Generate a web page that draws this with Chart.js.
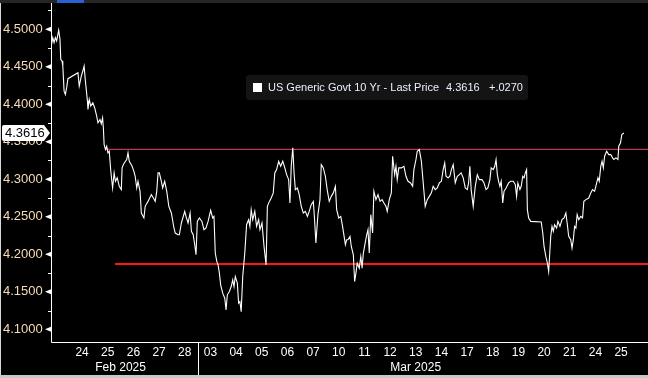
<!DOCTYPE html>
<html>
<head>
<meta charset="utf-8">
<script src="https://cdn.jsdelivr.net/npm/chart.js@4.4.1/dist/chart.umd.min.js"></script>
<style>
  html, body { margin: 0; padding: 0; background: #000; }
  #yieldCanvas { display: block; }
</style>
</head>
<body>
<canvas id="yieldCanvas" width="648" height="378"></canvas>
<script>
// US 10y generic yield, 21 Feb - 25 Mar 2025 (x = trading day position, 0 = start of 24 Feb)
const dayLabels = ["24", "25", "26", "27", "28", "03", "04", "05", "06", "07", "10", "11",
  "12", "13", "14", "17", "18", "19", "20", "21", "24", "25"];
const monthLabels = ["Feb 2025", "Mar 2025"];
const monthStarts = [-1, 5];
const monthEnds = [5, 22];

const yTicks = [4.10, 4.15, 4.20, 4.25, 4.30, 4.35, 4.40, 4.45, 4.50];
const yMinorTicks = [4.125, 4.175, 4.225, 4.275, 4.325, 4.375, 4.425, 4.475, 4.525];

const times = [
  -0.70, -0.64, -0.59, -0.54, -0.49, -0.41, -0.36, -0.33, -0.28, -0.25, -0.20, -0.15, -0.10, -0.05,
  0.34, 0.39, 0.47, 0.53, 0.58, 0.63, 0.71, 0.73, 0.78, 0.84, 0.92, 0.99,
  1.07, 1.12, 1.20, 1.25, 1.30, 1.33, 1.36, 1.41, 1.46, 1.51, 1.56,
  1.62, 1.69, 1.75, 1.80, 1.87, 1.95, 2.03, 2.06, 2.11, 2.19, 2.24, 2.29, 2.34,
  2.45, 2.52, 2.57, 2.63, 2.68, 2.76, 2.81, 2.91, 2.96, 3.07, 3.20, 3.28, 3.35, 3.41,
  3.46, 3.51, 3.59, 3.64, 3.72, 3.80, 3.88, 3.98, 4.08, 4.13, 4.24, 4.29,
  4.37, 4.50, 4.55, 4.63, 4.71, 4.76, 4.83, 4.89, 4.94,
  4.99, 5.07, 5.17, 5.25, 5.33, 5.41, 5.51, 5.59, 5.64,
  5.69, 5.75, 5.80, 5.85, 5.90, 5.98, 6.06, 6.11,
  6.16, 6.24, 6.31, 6.37, 6.42, 6.47, 6.55, 6.60, 6.65, 6.70,
  6.76, 6.84, 6.91, 6.99, 7.04, 7.09, 7.15, 7.23, 7.30, 7.38, 7.43, 7.51,
  7.59, 7.67, 7.72, 7.80, 7.87, 7.95,
  8.01, 8.08, 8.16, 8.24, 8.32, 8.40, 8.47, 8.55, 8.60, 8.65,
  8.71, 8.76, 8.81, 8.89, 8.96, 9.04, 9.12, 9.20, 9.28, 9.35,
  9.43, 9.51, 9.56, 9.61, 9.69, 9.77, 9.82, 9.90, 9.98, 10.05,
  10.13, 10.21, 10.29, 10.37, 10.42, 10.50, 10.58, 10.65, 10.71, 10.76, 10.81,
  10.86, 10.94, 10.99, 11.07, 11.12, 11.17, 11.22, 11.30, 11.36, 11.41, 11.46,
  11.53, 11.59, 11.64, 11.69, 11.75, 11.82, 11.87, 11.95,
  12.03, 12.11, 12.19, 12.26, 12.34, 12.39, 12.47, 12.55,
  12.60, 12.68, 12.73, 12.78, 12.84, 12.94, 13.04, 13.12, 13.20,
  13.30, 13.38, 13.43, 13.51, 13.56, 13.64, 13.72, 13.77, 13.82, 13.87,
  13.95, 14.03, 14.11, 14.18, 14.26, 14.34, 14.42, 14.50,
  14.57, 14.63, 14.68, 14.76, 14.83, 14.89, 14.96,
  15.04, 15.12, 15.20, 15.27, 15.35, 15.43, 15.51, 15.56,
  15.61, 15.66, 15.74, 15.82, 15.90, 15.98,
  16.08, 16.16, 16.24, 16.31, 16.39, 16.44, 16.52,
  16.58, 16.63, 16.68, 16.73, 16.78, 16.83, 16.89, 16.94,
  17.02, 17.12, 17.20, 17.30, 17.38, 17.43, 17.48,
  17.56, 17.61, 17.67, 17.72, 17.77, 17.82,
  17.85, 17.90, 17.98, 18.39,
  18.45, 18.50, 18.57, 18.63, 18.68, 18.73, 18.76,
  18.81, 18.86, 18.91, 18.99, 19.04, 19.12, 19.20, 19.28,
  19.35, 19.40, 19.46, 19.54, 19.59, 19.64, 19.69, 19.74,
  19.79, 19.85, 19.93, 20.00,
  20.05, 20.13, 20.24, 20.32, 20.39, 20.47,
  20.55, 20.60, 20.65, 20.71, 20.76, 20.81,
  20.86, 20.94, 21.02, 21.10, 21.17, 21.22, 21.30, 21.38,
  21.41, 21.48, 21.53, 21.61
];

const yields = [
  4.4777, 4.4889, 4.4822, 4.4889, 4.4844, 4.4987, 4.4866, 4.4599, 4.4576, 4.4510, 4.4175, 4.4131, 4.4221, 4.4341,
  4.4421, 4.4242, 4.4376, 4.4443, 4.4510, 4.4309, 4.4042, 4.3931, 4.4065, 4.3975, 4.4020, 4.3954,
  4.3841, 4.3753, 4.3797, 4.3740, 4.3820, 4.3686, 4.3463, 4.3396, 4.3440, 4.3352, 4.3374,
  4.3106, 4.2884, 4.3085, 4.2973, 4.3018, 4.2906, 4.2862, 4.3152, 4.3196, 4.3240, 4.3263, 4.3352, 4.3240,
  4.3173, 4.3106, 4.3040, 4.2884, 4.2973, 4.2839, 4.2550, 4.2484, 4.2639, 4.2705, 4.2795, 4.2751, 4.2705, 4.2839,
  4.3085, 4.3085, 4.2973, 4.2884, 4.2973, 4.2839, 4.2639, 4.2550, 4.2350, 4.2283, 4.2260, 4.2260,
  4.2417, 4.2572, 4.2505, 4.2417, 4.2550, 4.2305, 4.2260, 4.2127, 4.1993,
  4.2438, 4.2484, 4.2438, 4.2327, 4.2350, 4.2438, 4.2585, 4.2484, 4.2505,
  4.2016, 4.1904, 4.1859, 4.1749, 4.1592, 4.1481, 4.1414, 4.1258,
  4.1459, 4.1503, 4.1570, 4.1659, 4.1570, 4.1703, 4.1615, 4.1348, 4.1369, 4.1235,
  4.1703, 4.2016, 4.2394, 4.2461, 4.2371, 4.2594, 4.2461, 4.2572, 4.2371, 4.2461, 4.2327, 4.2417,
  4.2104, 4.1859, 4.2639, 4.2705, 4.2750, 4.2818,
  4.3085, 4.3129, 4.3240, 4.3173, 4.3240, 4.3152, 4.3062, 4.2995, 4.2684, 4.3173,
  4.3419, 4.3085, 4.2862, 4.2884, 4.2795, 4.2639, 4.2550, 4.2572, 4.2505, 4.2572,
  4.2661, 4.2705, 4.2461, 4.2149, 4.2528, 4.2728, 4.3196, 4.3152, 4.3040, 4.2862,
  4.2705, 4.2772, 4.2818, 4.2906, 4.2594, 4.2484, 4.2505, 4.2371, 4.2238, 4.2127, 4.2194,
  4.2194, 4.2238, 4.2104, 4.1993, 4.1636, 4.1749, 4.1882, 4.1815, 4.1970, 4.1815, 4.2016,
  4.2149, 4.2260, 4.2327, 4.2016, 4.2528, 4.2283, 4.2839, 4.2728,
  4.2795, 4.2705, 4.2728, 4.2684, 4.2639, 4.2572, 4.2728, 4.2818,
  4.3307, 4.3062, 4.3173, 4.2995, 4.3152, 4.3152, 4.3173, 4.3040, 4.2973,
  4.2951, 4.2906, 4.3129, 4.3263, 4.3374, 4.3396, 4.3240, 4.3040, 4.2839, 4.2639,
  4.2728, 4.2772, 4.2818, 4.2906, 4.2862, 4.2884, 4.2951, 4.2973,
  4.3129, 4.3219, 4.3040, 4.3018, 4.3040, 4.3129, 4.3196,
  4.2951, 4.3040, 4.3062, 4.3085, 4.3018, 4.2884, 4.2862, 4.2951,
  4.3173, 4.2862, 4.2639, 4.2906, 4.3062, 4.2995,
  4.2995, 4.2951, 4.2862, 4.2884, 4.2995, 4.3152, 4.3129,
  4.3173, 4.3263, 4.3062, 4.2973, 4.2906, 4.2973, 4.2684, 4.2839,
  4.2884, 4.2951, 4.2973, 4.2973, 4.2929, 4.2772, 4.2951,
  4.2862, 4.2906, 4.3040, 4.3018, 4.3085, 4.3129,
  4.2594, 4.2484, 4.2438, 4.2430,
  4.2283, 4.2104, 4.1970, 4.1882, 4.1770, 4.2060, 4.2238,
  4.2371, 4.2305, 4.2394, 4.2350, 4.2438, 4.2371, 4.2461, 4.2484,
  4.2550, 4.2417, 4.2238, 4.2194, 4.2083, 4.2194, 4.2371, 4.2350,
  4.2528, 4.2461, 4.2505, 4.2484,
  4.2705, 4.2728, 4.2750, 4.2818, 4.2862, 4.2839,
  4.2951, 4.3018, 4.2973, 4.3173, 4.3240, 4.3152,
  4.3307, 4.3374, 4.3329, 4.3329, 4.3285, 4.3263, 4.3285, 4.3263,
  4.3440, 4.3486, 4.3597, 4.3616
];

const lastPrice = 4.3616;
const netChange = 0.0270;
const seriesName = "US Generic Govt 10 Yr - Last Price";

// horizontal reference levels drawn on the chart
const upperLevel = 4.3399;
const upperFrom = 1.43;
const lowerLevel = 4.1869;
const lowerFrom = 1.78;

const xMin = -0.71;
const xMax = 22.55;

const FONT = '"Liberation Sans", Arial, sans-serif';

const bbgFrame = {
  id: "bbgFrame",
  beforeDraw(chart) {
    const ctx = chart.ctx;
    ctx.save();
    ctx.fillStyle = "#000";
    ctx.fillRect(0, 0, chart.width, chart.height);
    ctx.restore();
  },
  afterDraw(chart) {
    const ctx = chart.ctx;
    const { left, right, bottom } = chart.chartArea;
    const xs = chart.scales.x;
    const ys = chart.scales.y;
    ctx.save();

    // top strip
    ctx.fillStyle = "#262626";
    ctx.fillRect(0, 0, chart.width, 3);
    ctx.fillStyle = "#2c5fd0";
    ctx.fillRect(57, 0, 27, 3);

    // left border + bottom strip
    ctx.fillStyle = "#d8d8d8";
    ctx.fillRect(0, 3, 1, 372);
    ctx.fillStyle = "#c8c8c8";
    ctx.fillRect(0, 375, chart.width, 3);

    // axis lines
    ctx.strokeStyle = "#fff";
    ctx.lineWidth = 1;
    ctx.beginPath();
    ctx.moveTo(left + 0.5, 3);
    ctx.lineTo(left + 0.5, bottom + 0.5);
    ctx.lineTo(right, bottom + 0.5);
    ctx.stroke();

    // y minor ticks
    ctx.beginPath();
    yMinorTicks.forEach((v) => {
      const y = Math.round(ys.getPixelForValue(v)) + 0.5;
      ctx.moveTo(left - 3, y);
      ctx.lineTo(left, y);
    });
    ctx.stroke();

    // y major ticks (arrows) + labels
    ctx.font = "13px " + FONT;
    ctx.textBaseline = "middle";
    ctx.textAlign = "left";
    yTicks.forEach((v) => {
      const y = ys.getPixelForValue(v);
      ctx.fillStyle = "#fff";
      ctx.beginPath();
      ctx.moveTo(left - 6, y);
      ctx.lineTo(left, y - 2.5);
      ctx.lineTo(left, y + 2.5);
      ctx.closePath();
      ctx.fill();
      ctx.fillStyle = "#f7dcb6";
      ctx.fillText(v.toFixed(4), 3, y);
    });

    // x day labels
    ctx.font = "12px " + FONT;
    ctx.textAlign = "center";
    ctx.fillStyle = "#fff";
    dayLabels.forEach((d, i) => {
      ctx.fillText(d, xs.getPixelForValue(i + 0.5), 353);
    });

    // month labels + divider
    monthLabels.forEach((m, i) => {
      const cx = (xs.getPixelForValue(monthStarts[i]) + xs.getPixelForValue(monthEnds[i])) / 2;
      ctx.fillText(m, cx, 368);
    });
    const divX = Math.round(xs.getPixelForValue(monthEnds[0])) + 0.5;
    ctx.beginPath();
    ctx.moveTo(divX, bottom);
    ctx.lineTo(divX, 375);
    ctx.stroke();

    // last price tag on the axis
    const py = ys.getPixelForValue(lastPrice);
    ctx.fillStyle = "#fff";
    ctx.beginPath();
    ctx.moveTo(4, py - 8);
    ctx.lineTo(44, py - 8);
    ctx.lineTo(50, py);
    ctx.lineTo(44, py + 8);
    ctx.lineTo(4, py + 8);
    ctx.quadraticCurveTo(2, py + 8, 2, py + 6);
    ctx.lineTo(2, py - 6);
    ctx.quadraticCurveTo(2, py - 8, 4, py - 8);
    ctx.fill();
    ctx.fillStyle = "#000";
    ctx.font = "13px " + FONT;
    ctx.textAlign = "left";
    ctx.fillText(lastPrice.toFixed(4), 5, py + 0.5);

    // legend box
    ctx.fillStyle = "#141414";
    ctx.beginPath();
    ctx.roundRect(246, 75, 282, 25, 3);
    ctx.fill();
    ctx.fillStyle = "#fff";
    ctx.fillRect(253, 83, 9, 9);
    ctx.font = "11px " + FONT;
    ctx.fillStyle = "#eaf0ff";
    ctx.textAlign = "left";
    ctx.fillText(seriesName, 268, 88);
    ctx.fillText(lastPrice.toFixed(4), 446, 88);
    ctx.fillText("+" + netChange.toFixed(4).replace(/^0/, ""), 489, 88);

    ctx.restore();
  }
};

const yieldChart = new Chart(document.getElementById("yieldCanvas"), {
  type: "line",
  data: {
    datasets: [
      {
        label: seriesName,
        data: times.map((t, i) => ({ x: t, y: yields[i] })),
        borderColor: "#ffffff",
        borderWidth: 1.1,
        pointRadius: 0,
        tension: 0,
        order: 1,
      },
      {
        label: "upper",
        data: [{ x: upperFrom, y: upperLevel }, { x: xMax, y: upperLevel }],
        borderColor: "#e84868",
        borderWidth: 1,
        pointRadius: 0,
        order: 2,
      },
      {
        label: "lower",
        data: [{ x: lowerFrom, y: lowerLevel }, { x: xMax, y: lowerLevel }],
        borderColor: "#ff1414",
        borderWidth: 2,
        pointRadius: 0,
        order: 3,
      },
    ],
  },
  options: {
    responsive: false,
    animation: false,
    devicePixelRatio: 1,
    layout: { padding: { left: 51, top: 3, right: 0, bottom: 36 } },
    plugins: {
      legend: { display: false },
      tooltip: { enabled: false },
    },
    scales: {
      x: { type: "linear", display: false, min: xMin, max: xMax },
      y: { type: "linear", display: false, min: 4.083, max: 4.535 },
    },
  },
  plugins: [bbgFrame],
});
</script>
</body>
</html>
